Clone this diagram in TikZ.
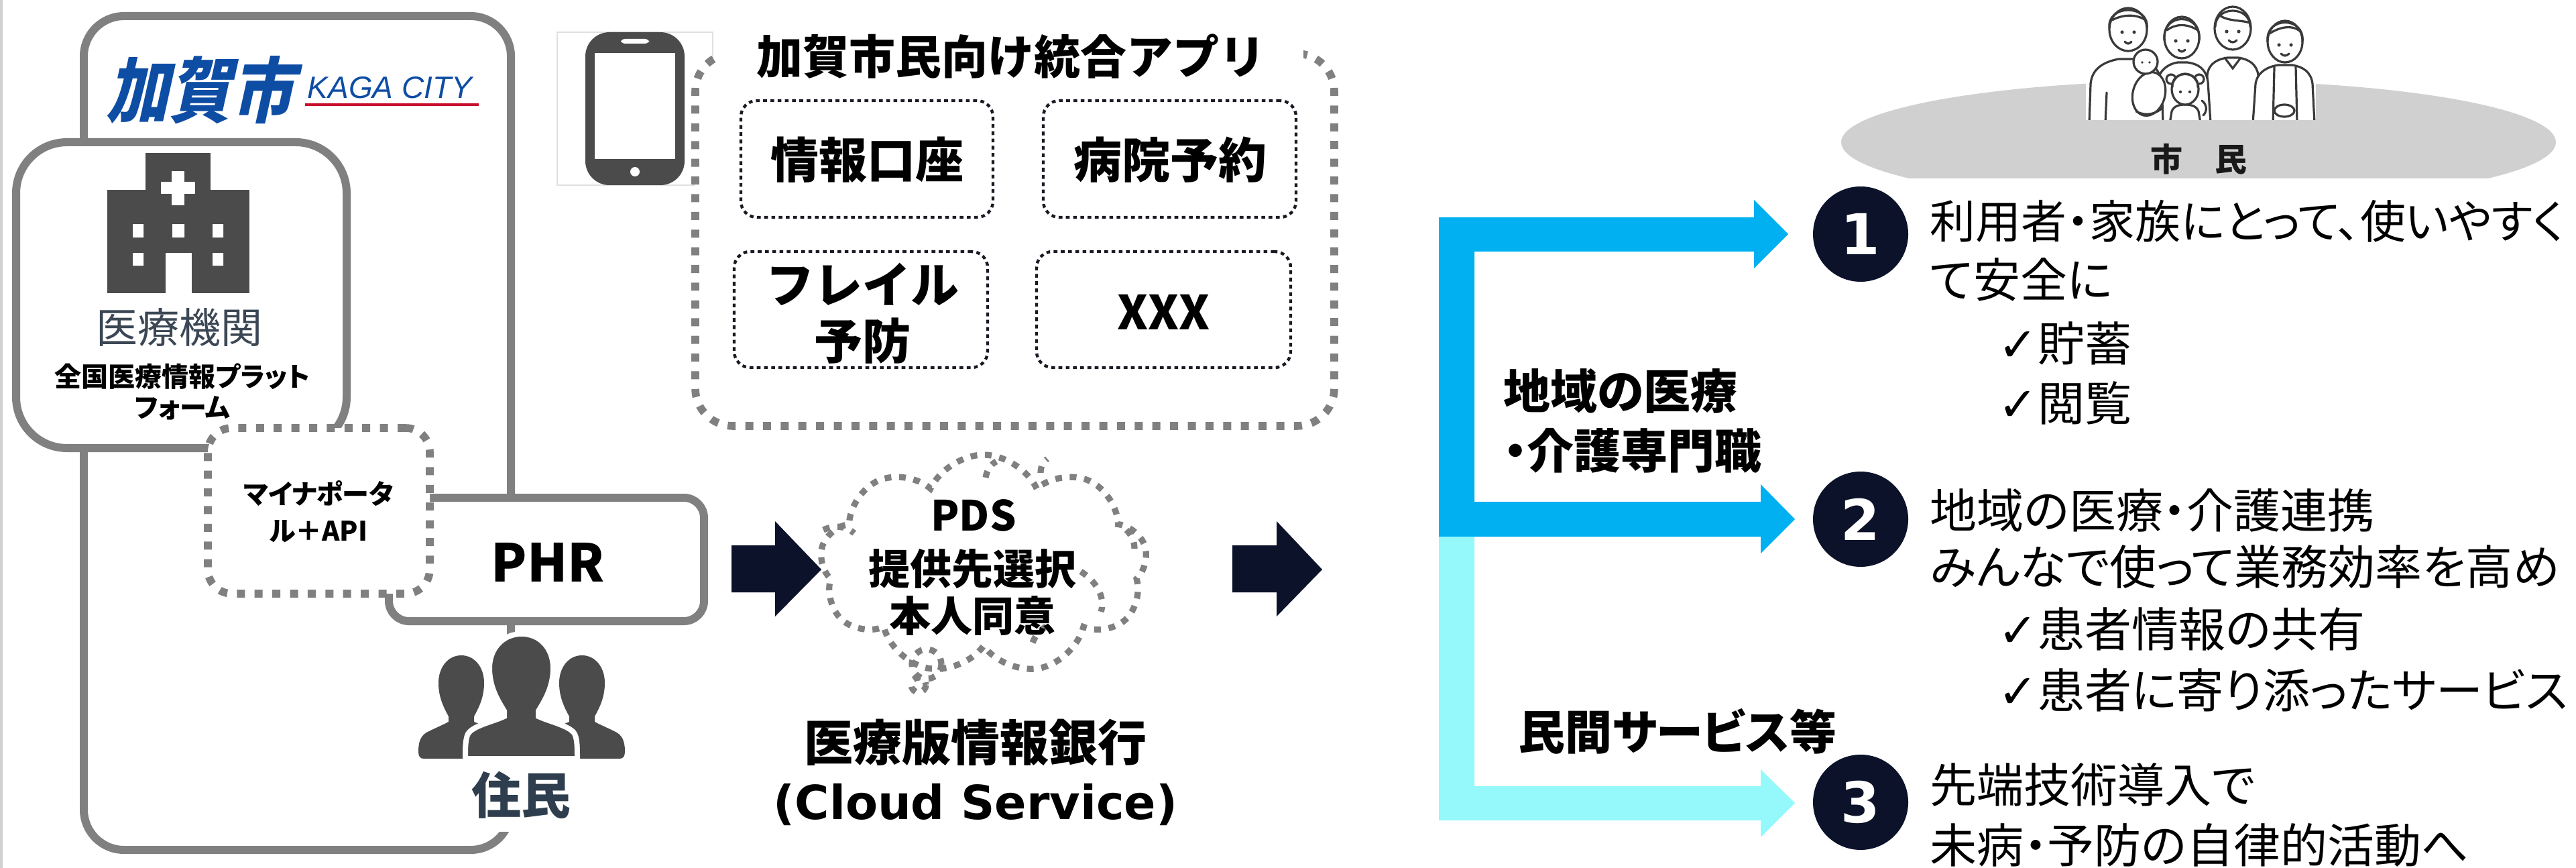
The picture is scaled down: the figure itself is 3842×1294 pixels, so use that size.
\documentclass[tikz,border=0pt]{standalone}
\usepackage{fontspec}
\usetikzlibrary{fit,shapes.symbols}
\setmainfont{Noto Sans CJK JP}
\newfontfamily\jppfont{Noto Sans CJK JP}[RawFeature=+palt]
\newfontfamily\kagafont{Noto Sans CJK JP}[FakeSlant=0.22, FakeStretch=0.88]
\newfontfamily\latinfont{Liberation Sans}
\newfontfamily\dvfont{DejaVu Sans}
% font size given in pixels of the drawing (1px = 0.25pt)
\newcommand\pxfont[1]{\fontsize{\dimexpr #1pt/4\relax}{\dimexpr #1pt*5/16\relax}\selectfont}

\definecolor{boxgray}{HTML}{808080}
\definecolor{icongray}{HTML}{4B4B4B}
\definecolor{navy}{HTML}{0B1229}
\definecolor{flowblue}{HTML}{00B0F0}
\definecolor{flowcyan}{HTML}{95F9FC}
\definecolor{kagablue}{HTML}{0E4DA4}
\definecolor{kagared}{HTML}{C8102E}
\definecolor{slate}{HTML}{3B4754}
\definecolor{ink}{HTML}{1A1A24}
\definecolor{ellgray}{HTML}{D0D0D0}
\definecolor{linegray}{HTML}{3A3A3A}
\definecolor{residentblue}{HTML}{2E3E4E}

\begin{document}
\begin{tikzpicture}[x=0.25pt,y=-0.25pt,
  frame/.style={draw=boxgray, line width=3pt, fill=white, inner sep=0pt},
  greydash/.style={draw=boxgray, line width=2.9pt, dash pattern=on 3pt off 3.6pt, fill=white, inner sep=0pt},
  clouddash/.style={draw=boxgray, line width=2.3pt, dash pattern=on 2.5pt off 2.9pt},
  itembox/.style={draw=ink, line width=1.1pt, dash pattern=on 1.4pt off 1.3pt, rounded corners=6pt, inner sep=0pt},
  txt/.style={inner sep=0pt},
  boldtxt/.style={inner sep=0pt, font=\bfseries\pxfont{#1}},
  flowlabel/.style={anchor=west, inner sep=0pt, font=\jppfont\bfseries\pxfont{70}},
  desc/.style={anchor=west, inner sep=0pt, font=\jppfont\pxfont{70}},
  badge/.style={circle, fill=navy, minimum size=35.5pt, inner sep=0pt, text=white, font=\dvfont\bfseries\pxfont{84}},
  fam/.style={draw=linegray, line width=0.8pt, fill=white, line join=round, line cap=round},
  famline/.style={draw=linegray, line width=0.8pt, line cap=round}]

\useasboundingbox (0,0) rectangle (3842,1294);
\fill[white] (0,0) rectangle (3842,1294);
\draw[line width=1pt, draw=black!18] (2,0) -- (2,1294);

% ---------------- Kaga city / hospital / PHR ----------------
\node[frame, rounded corners=15pt, fit={(125,24) (762,1267)}] (kaga) {};
\node[frame, rounded corners=19pt, fit={(24,212) (517,668)}] (hosp) {};
\node[frame, rounded corners=7.5pt, fit={(580,742) (1050,926)}] (phr) {};
\node[greydash, rounded corners=9pt, fit={(310,638) (641,885)}] (myna) {};

% city logo
\node[txt, font=\kagafont\bfseries\pxfont{106}, text=kagablue] (kagajp) at (298,134) {加賀市};
\node[txt, anchor=west, font=\latinfont\itshape\pxfont{46}, text=kagablue] (kagaen) at (458,131) {KAGA CITY};
\draw[kagared, line width=1pt] (455,156) -- (714,156);

% hospital pictogram
\fill[icongray] (217,228) rectangle (314,284);
\fill[icongray] (160,283) rectangle (372,437);
\fill[white] (256,255) rectangle (275,306);
\fill[white] (240,271) rectangle (291,289);
\fill[white] (198,334) rectangle (214,354) (257,334) rectangle (275,354) (317,334) rectangle (333,354);
\fill[white] (198,377) rectangle (214,396) (317,377) rectangle (333,396);
\fill[white] (247,377) rectangle (286,437);

\node[txt, font=\pxfont{62}, text=slate] (iryo) at (267,488) {医療機関};
\node[txt, font=\jppfont\bfseries\pxfont{40}] (zk1) at (272,561) {全国医療情報プラット};
\node[txt, font=\jppfont\bfseries\pxfont{40}] (zk2) at (272,608) {フォーム};

\node[txt, font=\jppfont\bfseries\pxfont{40}] (myna1) at (475,736) {マイナポータ};
\node[txt, font=\jppfont\bfseries\pxfont{40}] (myna2) at (475,792) {ル＋API};

\node[boldtxt=78] (phrlabel) at (817,838) {PHR};

% residents pictogram
\fill[icongray] (688,977) .. controls (708,977) and (722,995) .. (722,1018) .. controls (722,1040) and (714,1055) .. (707,1068)
  -- (707,1076) .. controls (725,1084) and (745,1088) .. (750,1100) -- (752,1131)
  -- (632,1131) .. controls (626,1131) and (624,1127) .. (624,1120) .. controls (624,1105) and (628,1095) .. (640,1090)
  .. controls (650,1085) and (660,1081) .. (669,1076)
  -- (669,1068) .. controls (662,1055) and (654,1040) .. (654,1018) .. controls (654,995) and (668,977) .. (688,977) -- cycle;
\fill[icongray] (868,977) .. controls (848,977) and (834,995) .. (834,1018) .. controls (834,1040) and (842,1055) .. (849,1068)
  -- (849,1076) .. controls (831,1084) and (811,1088) .. (806,1100) -- (804,1131)
  -- (924,1131) .. controls (930,1131) and (932,1127) .. (932,1120) .. controls (932,1105) and (928,1095) .. (916,1090)
  .. controls (906,1085) and (896,1081) .. (887,1076)
  -- (887,1068) .. controls (894,1055) and (902,1040) .. (902,1018) .. controls (902,995) and (888,977) .. (868,977) -- cycle;
\path[fill=icongray, draw=white, line width=2pt]
  (778,945) .. controls (806,945) and (825,967) .. (825,996) .. controls (825,1025) and (812,1045) .. (803,1060)
  -- (803,1068) .. controls (820,1076) and (850,1082) .. (857,1094) .. controls (861,1102) and (861,1115) .. (861,1131)
  -- (694,1131) .. controls (694,1115) and (694,1102) .. (698,1094) .. controls (705,1082) and (735,1076) .. (752,1068)
  -- (752,1060) .. controls (743,1045) and (730,1025) .. (730,996) .. controls (730,967) and (750,945) .. (778,945) -- cycle;
\node[fill=white, inner xsep=2pt, inner ysep=5pt, font=\bfseries\pxfont{74}, text=residentblue] (resident) at (777,1185) {住民};

% ---------------- integrated app ----------------
\draw[black!12, line width=0.5pt] (831,48) rectangle (1063,276);
\fill[icongray, rounded corners=9pt] (873,48) rectangle (1021,276);
\fill[white] (887,79) rectangle (1007,237);
\fill[white, rounded corners=1.5pt] (926,58) rectangle (968,65);
\fill[white] (947,256) circle [radius=7];

\node[greydash, rounded corners=14pt, fit={(1037,80) (1990,635)}] (app) {};
\node[fill=white, inner xsep=14pt, inner ysep=1pt, font=\bfseries\pxfont{69}] (apptitle) at (1508,84) {加賀市民向け統合アプリ};
\node[itembox, fit={(1105,150) (1481,324)}] (acct) {};
\node[itembox, fit={(1556,150) (1933,324)}] (resv) {};
\node[itembox, fit={(1095,375) (1473,548)}] (frail) {};
\node[itembox, fit={(1546,375) (1925,548)}] (xxx) {};
\node[boldtxt=72] at (1293,238) {情報口座};
\node[boldtxt=72] at (1745,238) {病院予約};
\node[boldtxt=72] at (1286,424) {フレイル};
\node[boldtxt=72] at (1286,508) {予防};
\node[boldtxt=70] at (1735,465) {XXX};

% ---------------- arrows and cloud ----------------
\fill[navy] (1091,813) -- (1156,813) -- (1156,777) -- (1225,849) -- (1156,919) -- (1156,883) -- (1091,883) -- cycle;
\fill[navy] (1838,813) -- (1904,813) -- (1904,777) -- (1972,849) -- (1904,919) -- (1904,883) -- (1838,883) -- cycle;

\node[cloud, cloud puffs=9, cloud puff arc=130, aspect=1.45, clouddash, minimum width=122pt, minimum height=82pt, inner sep=0pt] (pds) at (1467,842) {};
% inner folds of the cloud outline
\draw[clouddash] (1228,790) .. controls (1245,782) and (1262,784) .. (1274,795);
\draw[clouddash] (1612,852) .. controls (1640,870) and (1648,895) .. (1642,912);
\draw[clouddash] (1470,712) .. controls (1472,700) and (1478,692) .. (1486,688);
\draw[clouddash] (1552,705) .. controls (1552,695) and (1556,688) .. (1562,684);
\draw[clouddash] (1540,958) .. controls (1545,945) and (1555,935) .. (1568,930);
\draw[clouddash] (1680,790) .. controls (1688,798) and (1692,808) .. (1692,818);
\draw[clouddash] (1382,990) circle [radius=22];
\draw[clouddash] (1370,1021) circle [radius=11];
\node[boldtxt=62] (pds1) at (1452,768) {PDS};
\node[boldtxt=62] (pds2) at (1450,848) {提供先選択};
\node[boldtxt=62] (pds3) at (1450,918) {本人同意};
\node[boldtxt=73] (bank1) at (1455,1107) {医療版情報銀行};
\node[txt, font=\dvfont\bfseries\pxfont{70}] (bank2) at (1455,1200) {(Cloud Service)};

% ---------------- flows to citizens ----------------
\fill[flowblue] (2146,324) -- (2616,324) -- (2616,298) -- (2667,349) -- (2616,400) -- (2616,375) -- (2199,375)
  -- (2199,748) -- (2626,748) -- (2626,722) -- (2677,774) -- (2626,825) -- (2626,800) -- (2146,800) -- cycle;
\fill[flowcyan] (2146,800) -- (2199,800) -- (2199,1172) -- (2626,1172) -- (2626,1147) -- (2677,1197) -- (2626,1248)
  -- (2626,1223) -- (2146,1223) -- cycle;

\node[flowlabel] (pro1) at (2242,583) {地域の医療};
\node[flowlabel] (pro2) at (2242,672) {・介護専門職};
\node[flowlabel] (priv) at (2264,1090) {民間サービス等};

\node[badge] (b1) at (2775,349) {1};
\node[badge] (b2) at (2775,774) {2};
\node[badge] (b3) at (2775,1196) {3};

\node[desc, font=\jppfont\pxfont{68}] (d1a) at (2878,330) {利用者・家族にとって、使いやすく};
\node[desc] (d1b) at (2878,417) {て安全に};
\node[desc] (d1c) at (2980,512) {{\dvfont ✓}貯蓄};
\node[desc] (d1d) at (2980,601) {{\dvfont ✓}閲覧};
\node[desc] (d2a) at (2878,761) {地域の医療・介護連携};
\node[desc] (d2b) at (2878,845) {みんなで使って業務効率を高め};
\node[desc] (d2c) at (2980,938) {{\dvfont ✓}患者情報の共有};
\node[desc] (d2d) at (2980,1029) {{\dvfont ✓}患者に寄り添ったサービス};
\node[desc] (d3a) at (2878,1170) {先端技術導入で};
\node[desc] (d3b) at (2878,1260) {未病・予防の自律的活動へ};

% ---------------- citizens ----------------
\begin{scope}
  \clip (2700,0) rectangle (3842,266);
  \fill[ellgray] (3279,212) ellipse [x radius=533, y radius=92];
\end{scope}
\begin{scope}
  \clip (3111,0) rectangle (3454,179);
  \fill[white] (3111,0) rectangle (3454,179);
  % grandfather
  \path[fam] (3290,184) -- (3292,112) .. controls (3294,94) and (3308,88) .. (3322,86) -- (3338,86)
    .. controls (3354,88) and (3366,96) .. (3368,112) -- (3370,184) -- cycle;
  \draw[famline] (3318,86) -- (3330,102) -- (3342,86);
  \path[fam] (3330,42) ellipse [x radius=27, y radius=32];
  \draw[famline] (3304,40) .. controls (3304,8) and (3356,8) .. (3356,40);
  \draw[famline] (3312,24) .. controls (3325,32) and (3345,30) .. (3355,34);
  \fill[linegray] (3321,47) circle [radius=2.6] (3339,47) circle [radius=2.6];
  \draw[famline] (3324,60) .. controls (3328,64) and (3332,64) .. (3336,60);
  % grandmother
  \path[fam] (3360,184) -- (3364,125) .. controls (3367,106) and (3384,99) .. (3398,97) -- (3418,97)
    .. controls (3434,99) and (3447,107) .. (3449,125) -- (3452,184) -- cycle;
  \draw[famline] (3392,100) -- (3390,184) (3424,100) -- (3426,184);
  \path[fam] (3407,165) ellipse [x radius=15, y radius=9];
  \path[fam] (3408,62) ellipse [x radius=26, y radius=31];
  \draw[famline] (3382,62) .. controls (3378,24) and (3438,24) .. (3434,62);
  \draw[famline] (3385,50) .. controls (3400,40) and (3420,36) .. (3432,48);
  \fill[linegray] (3399,67) circle [radius=2.6] (3417,67) circle [radius=2.6];
  \draw[famline] (3402,80) .. controls (3406,84) and (3410,84) .. (3414,80);
  % mother
  \path[fam] (3214,184) -- (3218,122) .. controls (3221,102) and (3236,95) .. (3248,93) -- (3262,93)
    .. controls (3278,95) and (3290,102) .. (3293,122) -- (3297,184) -- cycle;
  \path[fam] (3254,56) ellipse [x radius=26, y radius=31];
  \draw[famline] (3228,60) .. controls (3224,18) and (3284,18) .. (3280,60);
  \draw[famline] (3232,45) .. controls (3245,35) and (3262,35) .. (3278,45);
  \fill[linegray] (3245,61) circle [radius=2.6] (3263,61) circle [radius=2.6];
  \draw[famline] (3249,74) .. controls (3252,78) and (3256,78) .. (3259,74);
  % father
  \path[fam] (3116,184) -- (3118,125) .. controls (3120,102) and (3138,92) .. (3160,88) -- (3190,88)
    .. controls (3208,92) and (3220,102) .. (3224,122) -- (3226,184) -- cycle;
  \draw[famline] (3140,184) -- (3142,138);
  \path[fam] (3174,44) ellipse [x radius=28, y radius=32];
  \draw[famline] (3146,42) .. controls (3142,6) and (3206,6) .. (3202,42);
  \draw[famline] (3150,30) .. controls (3165,22) and (3185,20) .. (3200,30);
  \fill[linegray] (3165,48) circle [radius=2.6] (3183,48) circle [radius=2.6];
  \draw[famline] (3169,62) .. controls (3172,66) and (3176,66) .. (3179,62);
  % baby
  \path[fam, rotate around={-15:(3205,140)}] (3205,140) ellipse [x radius=24, y radius=33];
  \path[fam] (3200,92) circle [radius=18];
  \fill[linegray] (3195,93) circle [radius=1.8] (3206,93) circle [radius=1.8];
  \draw[famline] (3186,166) .. controls (3200,174) and (3216,170) .. (3226,160);
  % girl
  \path[fam] (3236,184) -- (3239,166) .. controls (3242,158) and (3250,156) .. (3259,156)
    .. controls (3268,156) and (3276,158) .. (3279,166) -- (3282,184) -- cycle;
  \path[fam] (3238,118) circle [radius=7];
  \path[fam] (3280,118) circle [radius=7];
  \path[fam] (3259,133) ellipse [x radius=20, y radius=23];
  \draw[famline] (3240,130) .. controls (3238,104) and (3280,104) .. (3278,130);
  \fill[linegray] (3252,137) circle [radius=2.2] (3266,137) circle [radius=2.2];
  \draw[famline] (3284,150) .. controls (3292,156) and (3292,166) .. (3286,172);
\end{scope}
\node[txt, font=\bfseries\pxfont{48}, text=black!90] (citizens) at (3279,237) {市　民};

\end{tikzpicture}
\end{document}
